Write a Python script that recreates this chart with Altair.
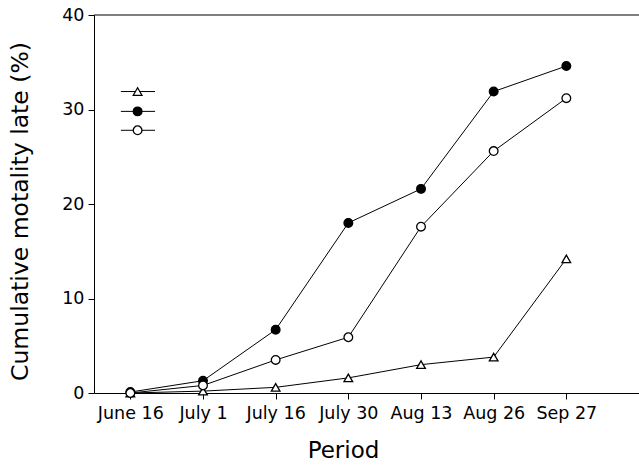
import altair as alt
import pandas as pd

periods = ["June 16", "July 1", "July 16", "July 30", "Aug 13", "Aug 26", "Sep 27"]
series_names = ["triangle", "filled", "open"]
tri_vals = [0.0, 0.2, 0.6, 1.6, 3.0, 3.8, 14.2]
filled_vals = [0.1, 1.3, 6.7, 18.0, 21.6, 31.9, 34.6]
open_vals = [0.0, 0.8, 3.5, 5.9, 17.6, 25.6, 31.2]

legend_y = [31.9, 29.8, 27.8]
legend_x = [0.10, 0.10, 0.10]
legend_x1 = [-0.13, -0.13, -0.13]
legend_x2 = [0.34, 0.34, 0.34]

rows = []
for name, vals in zip(series_names, [tri_vals, filled_vals, open_vals]):
    for i, v in enumerate(vals):
        rows.append({"series": name, "idx": i, "value": v})
df = pd.DataFrame(rows)

leg = pd.DataFrame({"series": series_names, "x": legend_x, "x1": legend_x1,
                    "x2": legend_x2, "y": legend_y})

FONT = "DejaVu Sans"
label_expr = "[" + ",".join("'%s'" % p for p in periods) + "][datum.value]"

xscale = alt.Scale(domain=[-0.5, 7.0], nice=False, zero=False)
yscale = alt.Scale(domain=[0, 40], nice=False)

shape_scale = alt.Scale(domain=series_names, range=["triangle-up", "circle", "circle"])
fill_scale = alt.Scale(domain=series_names, range=["white", "black", "white"])

x_axis = alt.Axis(values=list(range(7)), labelExpr=label_expr, title="Period",
                  grid=False, tickSize=6, labelPadding=5, labelFontSize=17.5,
                  labelFont=FONT, titleFont=FONT, titleFontSize=23,
                  titleFontWeight="normal", titlePadding=18, titleX=249,
                  titleAlign="center", titleAnchor="start", domainColor="black",
                  tickColor="black", labelColor="black", titleColor="black")
y_axis = alt.Axis(values=[0, 10, 20, 30, 40], title="Cumulative motality late (%)",
                  grid=False, tickSize=6, labelPadding=4, labelFontSize=17.5,
                  labelFont=FONT, titleFont=FONT, titleFontSize=23.5,
                  titleFontWeight="normal", titlePadding=29, titleY=196,
                  titleAlign="center", titleAnchor="start", domainColor="black",
                  tickColor="black", labelColor="black", titleColor="black")

base = alt.Chart(df)

lines = base.mark_line(color="black", strokeWidth=1).encode(
    x=alt.X("idx:Q", scale=xscale, axis=x_axis),
    y=alt.Y("value:Q", scale=yscale, axis=y_axis),
    detail="series:N",
)

points = base.mark_point(size=75, stroke="black", strokeWidth=1.3, opacity=1).encode(
    x=alt.X("idx:Q", scale=xscale),
    y=alt.Y("value:Q", scale=yscale),
    shape=alt.Shape("series:N", scale=shape_scale, legend=None),
    fill=alt.Fill("series:N", scale=fill_scale, legend=None),
)

top_rule = alt.Chart(pd.DataFrame({"y": [40]})).mark_rule(color="black", strokeWidth=1.2).encode(
    y=alt.Y("y:Q", scale=yscale)
)

leg_base = alt.Chart(leg)
leg_lines = leg_base.mark_rule(color="black", strokeWidth=1).encode(
    x=alt.X("x1:Q", scale=xscale), x2="x2:Q", y=alt.Y("y:Q", scale=yscale)
)
leg_points = leg_base.mark_point(size=75, stroke="black", strokeWidth=1.3, opacity=1).encode(
    x=alt.X("x:Q", scale=xscale),
    y=alt.Y("y:Q", scale=yscale),
    shape=alt.Shape("series:N", scale=shape_scale, legend=None),
    fill=alt.Fill("series:N", scale=fill_scale, legend=None),
)

chart = alt.layer(top_rule, lines, points, leg_lines, leg_points).properties(
    width=545, height=378,
    autosize=alt.AutoSizeParams(type="none"),
    padding={"left": 94, "top": 15, "right": 0, "bottom": 73},
    background="white",
).configure_view(stroke=None)

chart.save("out.html", embed_options={"renderer": "svg", "actions": False})
